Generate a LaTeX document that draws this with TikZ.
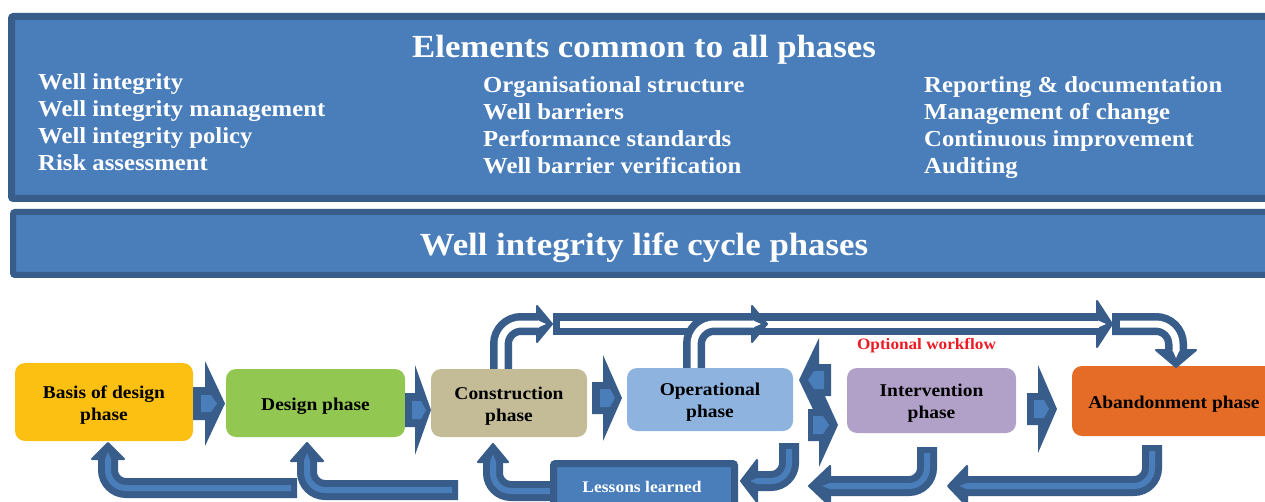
\documentclass[tikz,border=0pt]{standalone}
\usepackage{fontspec}
\setmainfont{Liberation Serif}[FakeStretch=1.08]
\definecolor{dk}{HTML}{385D8A}
\definecolor{md}{HTML}{4A7EBB}
\definecolor{cbod}{HTML}{FCC012}
\definecolor{cdes}{HTML}{92C851}
\definecolor{ccon}{HTML}{C4BC96}
\definecolor{cope}{HTML}{8EB3DF}
\definecolor{cint}{HTML}{B1A0C7}
\definecolor{caba}{HTML}{E46C26}
\definecolor{optred}{HTML}{ED1C24}
\tikzset{
  banner/.style={draw=dk, fill=md},
  bantext/.style={text=white, font=\bfseries\fontsize{22.9}{27}\selectfont, inner sep=0},
  bantitle/.style={text=white, font=\bfseries\fontsize{32.2}{36}\selectfont, inner sep=0},
  phasebox/.style={rounded corners=10pt, inner sep=0},
  phtext/.style={inner sep=0, text=black, align=center, yshift=-3pt,
    font=\bfseries\fontsize{18}{22}\selectfont},
  blk/.style={fill=dk},
  blkin/.style={fill=md},
  toptube/.style={draw=dk, line width=22pt, rounded corners=20pt},
  topstripe/.style={draw=white, line width=7pt, rounded corners=20pt},
  bottube/.style={draw=dk, line width=20pt, rounded corners=18pt},
  botstripe/.style={draw=md, line width=6pt, rounded corners=18pt},
  headdk/.style={fill=dk, draw=dk, line width=2pt, line join=round},
}
\begin{document}
\begin{tikzpicture}[x=1pt,y=-1pt]
\useasboundingbox (0,0) rectangle (1265,502);
\fill[white] (0,0) rectangle (1265,502);

% ---------- top banner ----------
\draw[banner, line width=7pt, rounded corners=2pt] (11.5,16.5) rectangle (1290,198.5);
\node[bantitle, anchor=base] (t1) at (644,57.5) {Elements common to all phases};
\node[bantext, anchor=base west] (c1a) at (38,90) {Well integrity};
\node[bantext, anchor=base west] (c1b) at (38,117) {Well integrity management};
\node[bantext, anchor=base west] (c1c) at (38,144) {Well integrity policy};
\node[bantext, anchor=base west] (c1d) at (38,171) {Risk assessment};
\node[bantext, anchor=base west] (c2a) at (483,93) {Organisational structure};
\node[bantext, anchor=base west] (c2b) at (483,120) {Well barriers};
\node[bantext, anchor=base west] (c2c) at (483,147) {Performance standards};
\node[bantext, anchor=base west] (c2d) at (483,174) {Well barrier verification};
\node[bantext, anchor=base west] (c3a) at (924,93) {Reporting \& documentation};
\node[bantext, anchor=base west] (c3b) at (924,120) {Management of change};
\node[bantext, anchor=base west] (c3c) at (924,147) {Continuous improvement};
\node[bantext, anchor=base west] (c3d) at (924,174) {Auditing};

% ---------- second banner ----------
\draw[banner, line width=6pt, rounded corners=2pt] (13,212) rectangle (1290,275);
\node[bantitle, anchor=base] (t2) at (644,256) {Well integrity life cycle phases};

% ---------- phase boxes ----------
\node[phasebox, fill=cbod, minimum width=178pt, minimum height=78pt] (bod) at (104,402) {};
\node[phasebox, fill=cdes, minimum width=179pt, minimum height=68pt] (des) at (315.5,403) {};
\node[phasebox, fill=ccon, minimum width=156pt, minimum height=68pt] (con) at (509,403) {};
\node[phasebox, fill=cope, minimum width=166pt, minimum height=63pt] (ope) at (710,399.5) {};
\node[phasebox, fill=cint, minimum width=169pt, minimum height=65pt] (int) at (931.5,400.5) {};
\node[phasebox, fill=caba, minimum width=204pt, minimum height=70pt] (aba) at (1174,401) {};
\node[phtext] (bodt) at (bod.center) {Basis of design\\phase};
\node[phtext] (dest) at (des.center) {Design phase};
\node[phtext] (cont) at (con.center) {Construction\\phase};
\node[phtext] (opet) at (ope.center) {Operational\\phase};
\node[phtext] (intt) at (int.center) {Intervention\\phase};
\node[phtext] (abat) at (aba.center) {Abandonment phase};

% ---------- block arrows ----------
\fill[blk] (193,387) -- (205,387) -- (205,361) -- (225,403.5) -- (205,446) -- (205,420) -- (193,420) -- cycle;
\fill[blkin] (201,395) -- (211,395) -- (217,403.5) -- (211,412) -- (201,412) -- cycle;
\fill[blk] (405,393) -- (415,393) -- (415,365) -- (431,410) -- (415,455) -- (415,427) -- (405,427) -- cycle;
\fill[blkin] (412,401) -- (421,401) -- (426,410) -- (421,419) -- (412,419) -- cycle;
\fill[blk] (592,382) -- (603,382) -- (603,355) -- (622,398) -- (603,441) -- (603,414) -- (592,414) -- cycle;
\fill[blkin] (600,389) -- (610,389) -- (615,398) -- (610,407) -- (600,407) -- cycle;
\fill[blk] (1027,393) -- (1038,393) -- (1038,365) -- (1057,409) -- (1038,453) -- (1038,425) -- (1027,425) -- cycle;
\fill[blkin] (1034,400) -- (1044,400) -- (1049,409) -- (1044,418) -- (1034,418) -- cycle;
\fill[blk] (831,364) -- (819,364) -- (819,338) -- (799,380) -- (819,422) -- (819,396) -- (831,396) -- cycle;
\fill[blk] (808,409) -- (819,409) -- (819,383) -- (838,425) -- (819,467) -- (819,441) -- (808,441) -- cycle;
\fill[blkin] (824,371) -- (814,371) -- (808,380) -- (814,389) -- (824,389) -- cycle;
\fill[blkin] (813,416) -- (823,416) -- (829,425) -- (823,434) -- (813,434) -- cycle;

% ---------- optional workflow (top tubes) ----------
\draw[toptube] (553,324) -- (1100,324);
\draw[headdk] (1097,301) -- (1112,324) -- (1097,347) -- cycle;
\draw[topstripe] (560,324) -- (1099,324);
\fill[white] (1098,320.5) -- (1106,324) -- (1098,327.5) -- cycle;

\draw[toptube] (con.north -| 501,0) -- (501,324) -- (540,324);
\draw[headdk] (537,306) -- (552,324) -- (537,342) -- cycle;
\draw[topstripe] (con.north -| 501,0) -- (501,324) -- (539,324);
\fill[white] (538,320.5) -- (546,324) -- (538,327.5) -- cycle;

\draw[toptube] (ope.north -| 694,0) -- (694,324) -- (755,324);
\draw[headdk] (752,306) -- (767,324) -- (752,342) -- cycle;
\draw[topstripe] (ope.north -| 694,0) -- (694,324) -- (754,324);
\fill[white] (753,320.5) -- (761,324) -- (753,327.5) -- cycle;

\draw[toptube] (1112,324) -- (1176,324) -- (1176,352);
\draw[headdk] (1156,350) -- (1176,367) -- (1196,350) -- cycle;
\draw[topstripe] (1120,324) -- (1176,324) -- (1176,351);
\fill[white] (1172.5,350) -- (1176,358) -- (1179.5,350) -- cycle;

\node[text=optred, font=\bfseries\fontsize{15.9}{18}\selectfont, inner sep=0, anchor=base] (opt) at (926.5,349) {Optional workflow};

% ---------- feedback (bottom tubes) ----------
\draw[bottube] (297,488) -- (108,488) -- (108,457);
\draw[headdk] (92,459) -- (108,443) -- (124,459) -- cycle;
\draw[botstripe] (291,488) -- (108,488) -- (108,458);
\fill[md] (105,459) -- (108,452) -- (111,459) -- cycle;

\draw[bottube] (458,490) -- (307,490) -- (307,459);
\draw[headdk] (291,461) -- (307,443) -- (323,461) -- cycle;
\draw[botstripe] (452,490) -- (307,490) -- (307,460);
\fill[md] (304,461) -- (307,453) -- (310,461) -- cycle;

\draw[bottube] (553,491) -- (493,491) -- (493,460);
\draw[headdk] (478,462) -- (493,444) -- (508,462) -- cycle;
\draw[botstripe] (553,491) -- (493,491) -- (493,461);
\fill[md] (490,462) -- (493,454) -- (496,462) -- cycle;

\draw[bottube] (789,443) -- (789,481) -- (756,481);
\draw[headdk] (757,460) -- (741,481) -- (757,502) -- cycle;
\draw[botstripe] (789,449) -- (789,481) -- (756,481);
\fill[md] (757,478) -- (750,481) -- (757,484) -- cycle;

\draw[bottube] (927,447) -- (927,486) -- (830,486);
\draw[headdk] (830,466) -- (809,486) -- (830,506) -- cycle;
\draw[botstripe] (927,453) -- (927,486) -- (829,486);
\fill[md] (830,483) -- (822,486) -- (830,489) -- cycle;

\draw[bottube] (1152,445) -- (1152,486) -- (967,486);
\draw[headdk] (967,466) -- (948,486) -- (967,506) -- cycle;
\draw[botstripe] (1152,451) -- (1152,486) -- (966,486);
\fill[md] (967,483) -- (959,486) -- (967,489) -- cycle;

% ---------- lessons learned ----------
\node[draw=dk, line width=7pt, fill=md, rounded corners=2pt, minimum width=181pt, minimum height=66.5pt, inner sep=0] (ll) at (644,496.75) {};
\node[text=white, font=\bfseries\fontsize{16.2}{19}\selectfont, inner sep=0, anchor=base] (lltext) at (642,492) {Lessons learned};
\end{tikzpicture}
\end{document}
